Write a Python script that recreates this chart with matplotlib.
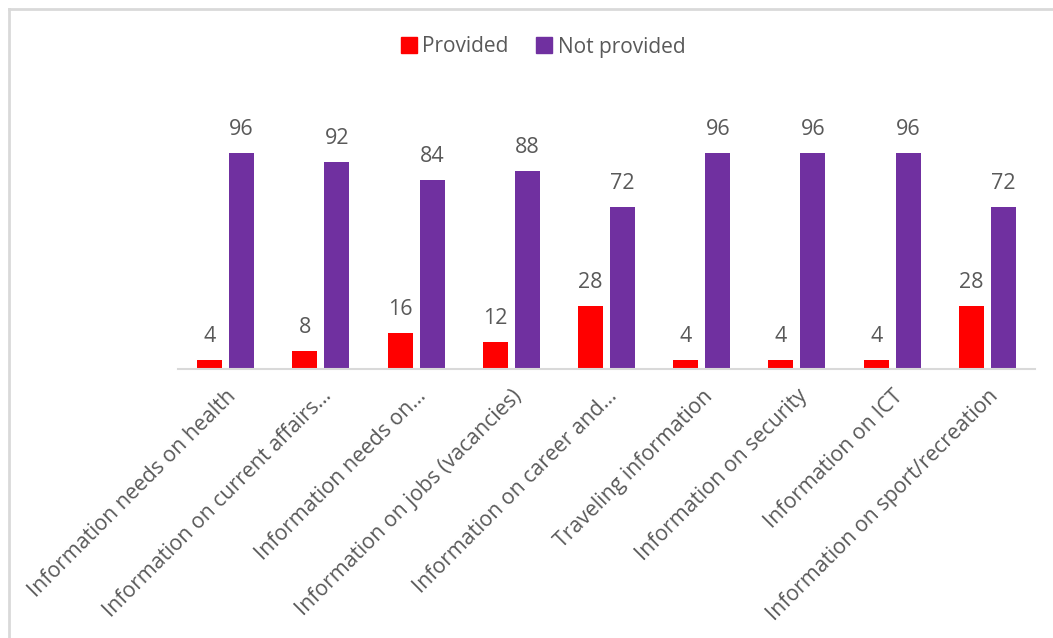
import matplotlib
matplotlib.use("Agg")
import matplotlib.pyplot as plt
import numpy as np
from matplotlib.lines import Line2D

categories = ["Information needs on health", "Information on current affairs...",
              "Information needs on...", "Information on jobs (vacancies)",
              "Information on career and...", "Traveling information",
              "Information on security", "Information on ICT",
              "Information on sport/recreation"]
provided = [4, 8, 16, 12, 28, 4, 4, 4, 28]
not_provided = [96, 92, 84, 88, 72, 96, 96, 96, 72]

plt.rcParams['font.family'] = ['Open Sans', 'DejaVu Sans']
txt = '#595959'

fig = plt.figure(figsize=(10.53, 6.38), dpi=100)
W, H = 1053, 638
ax = fig.add_axes([178 / W, 1 - 369 / H, (1035 - 178) / W, (369 - 144) / H])

x = np.arange(len(categories))
w = 0.263
off = 0.168
b1 = ax.bar(x - off, provided, w, color='#FF0000', label='Provided')
b2 = ax.bar(x + off, not_provided, w, color='#7030A0', label='Not provided')

for bars, vals in ((b1, provided), (b2, not_provided)):
    for b, v in zip(bars, vals):
        ax.annotate(str(v), (b.get_x() + b.get_width() / 2, v), xytext=(0, 9.5),
                    textcoords='offset points', ha='center', va='bottom',
                    fontsize=15.5, color=txt)

ax.set_xlim(-0.5, len(categories) - 0.5)
ax.set_ylim(0, 100)
ax.set_yticks([])
for s in ['top', 'right', 'left']:
    ax.spines[s].set_visible(False)
ax.spines['bottom'].set_color('#d9d9d9')
ax.spines['bottom'].set_linewidth(1.5)
ax.set_xticks(x)
ax.set_xticklabels(categories, rotation=45, ha='right', rotation_mode='anchor',
                   fontsize=15.3, color=txt)
ax.tick_params(axis='x', length=0, pad=12)

handles = [Line2D([], [], marker='s', linestyle='none', markersize=12, color='#FF0000'),
           Line2D([], [], marker='s', linestyle='none', markersize=12, color='#7030A0')]
fig.legend(handles, ['Provided', 'Not provided'], loc='center',
           bbox_to_anchor=(542 / W, 1 - 47 / H), ncol=2, frameon=False,
           fontsize=15, labelcolor=txt, handletextpad=0.15, columnspacing=1.2,
           handlelength=1.0)

# outer chart border (top and left visible)
fig.add_artist(Line2D([8.5 / W, 8.5 / W], [0, 1 - 8.5 / H], transform=fig.transFigure,
                      color='#d9d9d9', lw=2))
fig.add_artist(Line2D([8.5 / W, 1], [1 - 8.5 / H, 1 - 8.5 / H], transform=fig.transFigure,
                      color='#d9d9d9', lw=2))

fig.savefig('out.png', dpi=100, facecolor='white')
